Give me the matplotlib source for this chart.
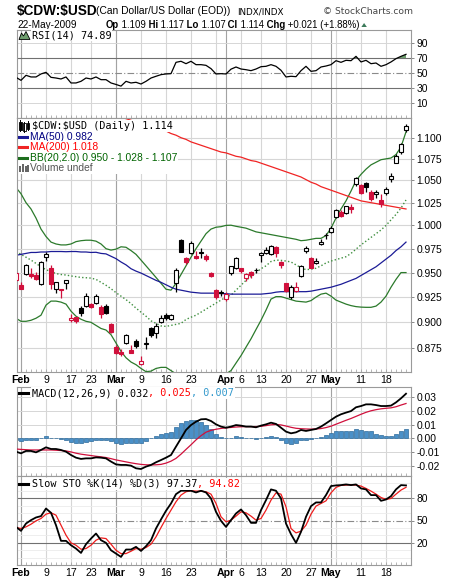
import datetime as dt

import matplotlib
matplotlib.use("Agg")
import matplotlib.pyplot as plt
import numpy as np
from matplotlib import ticker
from matplotlib.lines import Line2D
from matplotlib.patches import Polygon, Rectangle

plt.rcParams["font.family"] = ["Liberation Sans", "DejaVu Sans"]

# ---------------- data ----------------
jan_days = [30]
feb_days = [2, 3, 4, 5, 6, 9, 10, 11, 12, 13, 17, 18, 19, 20, 23, 24, 25, 26, 27]
mar_days = [2, 3, 4, 5, 6, 9, 10, 11, 12, 13, 16, 17, 18, 19, 20, 23, 24, 25, 26, 27, 30, 31]
apr_days = [1, 2, 3, 6, 7, 8, 9, 13, 14, 15, 16, 17, 20, 21, 22, 23, 24, 27, 28, 29, 30]
may_days = [1, 4, 5, 6, 7, 8, 11, 12, 13, 14, 15, 18, 19, 20, 21, 22]

prev_close = 0.956  # close of the day before the first one shown

opens = [0.942, 0.937, 0.949, 0.9486, 0.9475, 0.938, 0.9666, 0.9545, 0.9329, 0.9327,
         0.9388, 0.902, 0.905, 0.9139, 0.9158, 0.9181, 0.9188, 0.9155, 0.9161, 0.8979,
         0.8765, 0.8718, 0.8798, 0.8738, 0.8820, 0.8597, 0.8795, 0.8942, 0.8894, 0.9004,
         0.9072, 0.9036, 0.9390, 0.9843, 0.9649, 0.9701, 0.9676, 0.9707, 0.9676, 0.9499,
         0.9322, 0.9295, 0.9236, 0.9493, 0.9545, 0.9545, 0.9441, 0.9509, 0.9524, 0.9684,
         0.9701, 0.9691, 0.9771, 0.9607, 0.9390, 0.9249, 0.9312, 0.9465, 0.9726, 0.9649,
         0.9597, 0.9797, 0.9894, 0.9932, 1.0092, 1.0150, 1.0136, 1.0205, 1.0457, 1.0449,
         1.0468, 1.0373, 1.0344, 1.0280, 1.0355, 1.0514, 1.0705, 1.0827, 1.109]
highs = [0.951, 0.940, 0.959, 0.9545, 0.951, 0.962, 0.9715, 0.9574, 0.940, 0.933,
         0.9426, 0.908, 0.905, 0.9157, 0.9289, 0.919, 0.9279, 0.9171, 0.9181, 0.8997,
         0.8781, 0.8740, 0.8887, 0.8781, 0.8839, 0.8672, 0.8855, 0.8958, 0.8991, 0.9072,
         0.9089, 0.9085, 0.9543, 0.9853, 0.9666, 0.9829, 0.9723, 0.9754, 0.9694, 0.9509,
         0.9332, 0.9322, 0.9305, 0.9570, 0.9660, 0.9548, 0.9499, 0.9520, 0.9551, 0.9718,
         0.9771, 0.9790, 0.9779, 0.9624, 0.9396, 0.9373, 0.9407, 0.9579, 0.9779, 0.9666,
         0.9649, 0.9850, 0.9921, 0.9994, 1.0175, 1.0169, 1.0215, 1.0235, 1.0543, 1.0460,
         1.0480, 1.0392, 1.0392, 1.0344, 1.0430, 1.0582, 1.0803, 1.0933, 1.117]
lows = [0.941, 0.933, 0.947, 0.944, 0.942, 0.937, 0.9624, 0.9337, 0.9295, 0.9244,
        0.9327, 0.9007, 0.899, 0.9065, 0.9147, 0.9143, 0.9179, 0.904, 0.9079, 0.8894,
        0.8696, 0.8677, 0.8791, 0.8701, 0.8750, 0.8593, 0.8743, 0.8861, 0.8844, 0.8989,
        0.9018, 0.902, 0.9302, 0.9712, 0.9586, 0.9694, 0.9638, 0.9652, 0.9624, 0.9452,
        0.9231, 0.9262, 0.9211, 0.9480, 0.9540, 0.9493, 0.9414, 0.9441, 0.9493, 0.9613,
        0.9694, 0.9685, 0.9659, 0.9545, 0.9305, 0.9231, 0.9305, 0.9452, 0.9708, 0.9545,
        0.9586, 0.9789, 0.9850, 0.9915, 1.0085, 1.0095, 1.0130, 1.0132, 1.0441, 1.0347,
        1.0373, 1.0269, 1.0299, 1.0205, 1.0336, 1.0486, 1.0698, 1.0803, 1.107]
closes = [0.950, 0.933, 0.958, 0.946, 0.9431, 0.961, 0.9691, 0.938, 0.9399, 0.9317,
          0.9424, 0.904, 0.901, 0.9095, 0.9259, 0.9152, 0.9259, 0.9079, 0.9089, 0.8902,
          0.8703, 0.8695, 0.8877, 0.8707, 0.8775, 0.8630, 0.8798, 0.8877, 0.8965, 0.9040,
          0.9043, 0.9072, 0.9527, 0.9715, 0.9613, 0.9811, 0.9649, 0.9712, 0.9642, 0.9467,
          0.9252, 0.9298, 0.9282, 0.9565, 0.9649, 0.9520, 0.9486, 0.9475, 0.9527, 0.9708,
          0.9736, 0.9782, 0.9708, 0.9582, 0.9315, 0.9356, 0.9350, 0.9568, 0.9754, 0.9551,
          0.9624, 0.9824, 0.9897, 0.9969, 1.0169, 1.0103, 1.0210, 1.0185, 1.0532, 1.0355,
          1.0430, 1.0291, 1.0373, 1.0232, 1.0403, 1.0552, 1.0783, 1.093, 1.114]

ma50 = [0.968, 0.969, 0.970, 0.971, 0.971, 0.9715, 0.9715, 0.972, 0.972, 0.972,
        0.9718, 0.972, 0.972, 0.9715, 0.9715, 0.971, 0.9712, 0.970, 0.9695, 0.967,
        0.9645, 0.961, 0.958, 0.954, 0.9515, 0.9495, 0.947, 0.9445, 0.942, 0.940,
        0.9375, 0.935, 0.933, 0.932, 0.931, 0.930, 0.9295, 0.929, 0.929, 0.929,
        0.929, 0.9285, 0.9285, 0.928, 0.928, 0.928, 0.928, 0.928, 0.928, 0.928,
        0.9285, 0.929, 0.930, 0.9305, 0.9305, 0.9305, 0.9305, 0.9305, 0.9305, 0.931,
        0.932, 0.933, 0.934, 0.935, 0.9365, 0.938, 0.940, 0.942, 0.944, 0.947,
        0.950, 0.953, 0.956, 0.960, 0.964, 0.968, 0.973, 0.977, 0.982]
ma200_first = 20  # MA(200) comes down into the window on this day
ma200 = [1.127, 1.125, 1.123, 1.121, 1.119, 1.117, 1.115, 1.114, 1.112, 1.110,
         1.108, 1.105, 1.103, 1.100, 1.098, 1.095, 1.093, 1.091, 1.089, 1.087,
         1.085, 1.083, 1.082, 1.080, 1.078, 1.077, 1.075, 1.073, 1.072, 1.070,
         1.068, 1.066, 1.064, 1.062, 1.060, 1.058, 1.056, 1.054, 1.051, 1.048,
         1.046, 1.043, 1.041, 1.039, 1.037, 1.035, 1.033, 1.031, 1.029, 1.027,
         1.026, 1.025, 1.024, 1.023, 1.022, 1.021, 1.020, 1.019, 1.018]
bb_upper = [1.042, 1.035, 1.025, 1.018, 1.008, 0.996, 0.988, 0.982, 0.980, 0.979,
            0.979, 0.980, 0.9825, 0.9835, 0.984, 0.984, 0.983, 0.980, 0.975, 0.9735,
            0.9745, 0.977, 0.9765, 0.973, 0.969, 0.963, 0.957, 0.951, 0.945, 0.939,
            0.933, 0.932, 0.939, 0.948, 0.957, 0.966, 0.975, 0.983, 0.991, 0.996,
            0.998, 0.9986, 1.000, 1.0002, 0.999, 0.998, 0.997, 0.995, 0.993, 0.992,
            0.991, 0.990, 0.989, 0.988, 0.987, 0.986, 0.985, 0.9835, 0.984, 0.985,
            0.986, 0.986, 0.989, 0.997, 1.008, 1.018, 1.027, 1.038, 1.050, 1.057,
            1.063, 1.068, 1.071, 1.074, 1.075, 1.076, 1.080, 1.089, 1.107]
bb_mid = [0.972, 0.969, 0.966, 0.963, 0.9595, 0.956, 0.953, 0.951, 0.949, 0.948,
          0.9475, 0.9465, 0.9458, 0.945, 0.9447, 0.9443, 0.943, 0.940, 0.937, 0.9335,
          0.9295, 0.926, 0.9225, 0.9185, 0.914, 0.910, 0.906, 0.9015, 0.899, 0.8965,
          0.896, 0.897, 0.898, 0.899, 0.9028, 0.905, 0.907, 0.910, 0.913, 0.916,
          0.919, 0.922, 0.925, 0.927, 0.932, 0.937, 0.942, 0.946, 0.950, 0.954,
          0.957, 0.9615, 0.963, 0.9627, 0.962, 0.961, 0.958, 0.955, 0.953, 0.9535,
          0.9545, 0.957, 0.960, 0.962, 0.9635, 0.965, 0.9665, 0.970, 0.9745, 0.979,
          0.983, 0.987, 0.991, 0.995, 1.000, 1.006, 1.012, 1.019, 1.028]
bb_lower = [0.904, 0.901, 0.901, 0.902, 0.904, 0.907, 0.917, 0.921, 0.921, 0.920,
            0.918, 0.911, 0.906, 0.903, 0.901, 0.900, 0.897, 0.894, 0.8925, 0.888,
            0.880, 0.872, 0.866, 0.862, 0.8595, 0.856, 0.853, 0.8535, 0.856, 0.857,
            0.857, 0.854, 0.851, 0.847, 0.843, 0.840, 0.838, 0.836, 0.835, 0.837,
            0.841, 0.846, 0.851, 0.854, 0.861, 0.868, 0.876, 0.884, 0.893, 0.902,
            0.912, 0.923, 0.9255, 0.9255, 0.924, 0.9225, 0.921, 0.9205, 0.920, 0.9215,
            0.925, 0.928, 0.929, 0.926, 0.922, 0.920, 0.918, 0.9165, 0.9155, 0.915,
            0.9148, 0.9148, 0.916, 0.920, 0.926, 0.935, 0.943, 0.950, 0.950]

rsi = [44.2, 40.2, 46.9, 44.7, 44.7, 48.7, 50.9, 44.2, 43.3, 42.0,
       44.7, 36.7, 36.7, 38.9, 43.3, 42.0, 44.7, 41.1, 41.1, 36.7,
       34.7, 32.5, 38.9, 36.7, 37.6, 35.3, 38.9, 43.3, 45.6, 47.8,
       48.7, 49.1, 64.2, 65.6, 62.4, 65.6, 61.1, 61.1, 60.2, 55.8,
       48.7, 49.1, 48.7, 55.1, 58.0, 55.3, 54.4, 53.1, 55.3, 58.4,
       58.9, 61.1, 58.9, 53.6, 44.7, 45.6, 45.1, 53.1, 58.9, 52.2,
       53.1, 58.0, 59.3, 61.1, 66.4, 64.2, 66.9, 66.4, 72.2, 64.7,
       66.9, 62.4, 63.3, 58.9, 61.1, 64.7, 69.1, 72.2, 74.89]

macd = [-0.0094, -0.0106, -0.0089, -0.0089, -0.0099, -0.0082, -0.0063, -0.0075, -0.0075, -0.0082,
        -0.0094, -0.0118, -0.0137, -0.0146, -0.0142, -0.0142, -0.0135, -0.0137, -0.0142, -0.0165,
        -0.0185, -0.0189, -0.0189, -0.0194, -0.0213, -0.0218, -0.0201, -0.0189, -0.0170, -0.0154,
        -0.0137, -0.0118, -0.0058, 0.0001, 0.0061, 0.0096, 0.0120, 0.0137, 0.0139, 0.0125,
        0.0101, 0.0085, 0.0077, 0.0085, 0.0096, 0.0092, 0.0085, 0.0085, 0.0080, 0.0092,
        0.0101, 0.0113, 0.0104, 0.0077, 0.0049, 0.0037, 0.0044, 0.0061, 0.0054, 0.0061,
        0.0068, 0.0085, 0.0108, 0.0132, 0.0156, 0.0173, 0.0185, 0.0196, 0.0223, 0.0232,
        0.0244, 0.0244, 0.0239, 0.0232, 0.0232, 0.0235, 0.0258, 0.0287, 0.0320]
macd_signal = [-0.0075, -0.0078, -0.0080, -0.0082, -0.0082, -0.0082, -0.0082, -0.0082, -0.0084, -0.0086,
               -0.0089, -0.0096, -0.0105, -0.0112, -0.0117, -0.0122, -0.0127, -0.0131, -0.0136, -0.0144,
               -0.0153, -0.0160, -0.0167, -0.0174, -0.0180, -0.0185, -0.0188, -0.0189, -0.0188, -0.0185,
               -0.0176, -0.0162, -0.0142, -0.0112, -0.0078, -0.0045, -0.0010, 0.0020, 0.0045, 0.0058,
               0.0066, 0.0072, 0.0076, 0.0079, 0.0082, 0.0084, 0.0085, 0.0085, 0.0085, 0.0087,
               0.0092, 0.0098, 0.0100, 0.0097, 0.0089, 0.0080, 0.0073, 0.0070, 0.0068, 0.0067,
               0.0068, 0.0071, 0.0078, 0.0088, 0.0102, 0.0116, 0.0130, 0.0143, 0.0158, 0.0173,
               0.0187, 0.0198, 0.0206, 0.0212, 0.0216, 0.0219, 0.0227, 0.0239, 0.0250]
macd_hist = [-0.0010, -0.0015, -0.0010, -0.0010, -0.0010, 0.0005, 0.0015, 0.0005, 0.0000, -0.0005,
             -0.0010, -0.0025, -0.0030, -0.0030, -0.0025, -0.0020, -0.0010, -0.0010, -0.0010, -0.0020,
             -0.0035, -0.0040, -0.0035, -0.0030, -0.0035, -0.0030, -0.0015, 0.0000, 0.0015, 0.0030,
             0.0040, 0.0045, 0.0080, 0.0110, 0.0125, 0.0130, 0.0130, 0.0120, 0.0095, 0.0070,
             0.0035, 0.0010, 0.0000, 0.0005, 0.0015, 0.0010, 0.0005, 0.0000, -0.0002, 0.0005,
             0.0010, 0.0015, 0.0010, -0.0010, -0.0030, -0.0040, -0.0030, -0.0010, -0.0010, -0.0005,
             0.0000, 0.0010, 0.0025, 0.0040, 0.0050, 0.0055, 0.0055, 0.0055, 0.0065, 0.0060,
             0.0057, 0.0050, 0.0035, 0.0025, 0.0015, 0.0020, 0.0035, 0.0050, 0.0070]

sto_k = [41.4, 36.0, 45.9, 50.5, 54.1, 55.9, 66.2, 60.4, 43.7, 22.5,
         22.5, 16.6, 12.1, 6.2, 18.0, 25.6, 32.4, 23.4, 19.8, 9.8,
         5.3, 0.8, 10.8, 10.8, 14.4, 8.9, 15.3, 23.4, 39.2, 51.4,
         63.1, 73.0, 85.6, 90.2, 90.2, 90.2, 87.9, 90.2, 87.9, 79.8,
         61.7, 49.5, 41.4, 50.5, 59.5, 64.9, 57.2, 46.8, 46.8, 64.0,
         77.5, 92.0, 90.2, 79.8, 45.9, 31.5, 19.8, 34.7, 55.0, 69.4,
         74.4, 74.4, 84.3, 96.5, 97.4, 97.8, 98.7, 97.8, 98.7, 93.3,
         92.0, 84.3, 84.3, 76.6, 78.4, 82.9, 92.0, 97.8, 97.37]
sto_d = [40.5, 39.2, 41.4, 45.0, 49.5, 52.7, 58.6, 60.4, 57.2, 43.7,
         30.2, 19.8, 16.6, 11.2, 12.1, 16.6, 23.4, 26.5, 25.6, 18.0,
         9.8, 5.3, 5.3, 8.5, 12.1, 11.2, 13.5, 18.0, 27.9, 40.5,
         52.7, 64.0, 75.3, 84.3, 88.8, 90.2, 89.7, 89.7, 88.8, 85.6,
         73.0, 55.0, 48.2, 50.5, 55.9, 61.7, 60.4, 55.9, 50.5, 52.7,
         64.0, 77.5, 87.4, 85.6, 68.5, 39.2, 33.3, 35.6, 43.7, 58.6,
         69.4, 73.0, 76.6, 87.4, 94.7, 97.4, 97.8, 98.3, 97.8, 96.5,
         93.3, 89.7, 85.6, 81.1, 78.4, 79.8, 85.6, 91.1, 94.82]

price_ticks = [0.875, 0.900, 0.925, 0.950, 0.975, 1.000, 1.025, 1.050, 1.075, 1.100]
rsi_ticks = [10, 30, 50, 70, 90]
macd_ticks = [-0.02, -0.01, 0.00, 0.01, 0.02, 0.03]
sto_ticks = [20, 50, 80]

# ---------------- colours ----------------
RED = "#d0103c"
NAVY = "#1b1b96"
MA200_RED = "#f02424"
BB_GREEN = "#2b7a2b"
GRID = "#d6d6d6"
MONTH = "#a3a3a3"
EDGE = "#9a9a9a"

# ---------------- figure ----------------
W, H = 460, 582
fig = plt.figure(figsize=(W / 100, H / 100), dpi=100)
fig.patch.set_facecolor("white")
renderer = fig.canvas.get_renderer()


def fx(px):
    return px / W


def fy(py):
    return 1 - py / H


def ftext(xp, yp, s, **kw):
    kw.setdefault("parse_math", False)
    return fig.text(fx(xp), fy(yp), s, **kw)


def text_run(xp, yp, pieces, **kw):
    # pieces: (text, colour, weight)
    for s, col, wt in pieces:
        t = ftext(xp, yp, s, color=col, weight=wt, **kw)
        xp += t.get_window_extent(renderer).width
    return xp


def fline(x0, x1, yp, **kw):
    fig.add_artist(Line2D([fx(x0), fx(x1)], [fy(yp), fy(yp)], transform=fig.transFigure, **kw))


def frect(x0, y0, x1, y1, **kw):
    fig.add_artist(Rectangle((fx(x0), fy(y1)), (x1 - x0) / W, (y1 - y0) / H,
                             transform=fig.transFigure, **kw))


def panel(x0, y0, x1, y1):
    return fig.add_axes([fx(x0), fy(y1), (x1 - x0) / W, (y1 - y0) / H])


dates = ([dt.date(2009, 1, d) for d in jan_days] + [dt.date(2009, 2, d) for d in feb_days]
         + [dt.date(2009, 3, d) for d in mar_days] + [dt.date(2009, 4, d) for d in apr_days]
         + [dt.date(2009, 5, d) for d in may_days])
n = len(dates)
x = np.arange(n)
month_starts = [i for i in range(1, n) if dates[i].month != dates[i - 1].month]
week_starts = [i for i in range(1, n)
               if dates[i].isocalendar()[1] != dates[i - 1].isocalendar()[1]]
tick_pos, tick_lab = [], []
for i in sorted(set(week_starts) | set(month_starts)):
    if i in month_starts:
        tick_pos.append(i)
        tick_lab.append(dates[i].strftime("%b"))
    elif min(abs(i - m) for m in month_starts) > 2:
        tick_pos.append(i)
        tick_lab.append(str(dates[i].day))


def base(ax, ylim):
    ax.set_xlim(0.2, 79)
    ax.set_ylim(*ylim)
    for s in ax.spines.values():
        s.set_color(EDGE)
        s.set_linewidth(0.8)
    for i in week_starts:
        ax.axvline(i, color=GRID, lw=0.8, zorder=0)
    for i in month_starts:
        ax.axvline(i, color=MONTH, lw=0.8, zorder=0)
    ax.yaxis.tick_right()
    ax.tick_params(axis="y", which="major", direction="out", length=2, width=0.6,
                   colors="#777777", labelcolor="black", labelsize=7.4, pad=2)
    ax.set_xticks(tick_pos)
    ax.set_xticklabels([])
    ax.xaxis.set_minor_locator(ticker.FixedLocator(x))
    ax.tick_params(axis="x", which="both", direction="in", length=2, width=0.5,
                   colors="#999999", labelcolor="black")


def label_x(ax):
    ax.set_xticklabels(tick_lab)
    ax.tick_params(axis="x", which="major", labelsize=7.6, pad=2.5)
    for lab in ax.get_xticklabels():
        if not lab.get_text().isdigit():
            lab.set_fontweight("bold")


# ---------------- RSI ----------------
ax_rsi = panel(17, 30, 411, 118)
base(ax_rsi, (-10, 107.3))
rsi_a = np.array(rsi)
for lvl in (10, 90):
    ax_rsi.axhline(lvl, color=GRID, lw=0.7, zorder=0)
ax_rsi.axhline(70, color="#707070", lw=0.8, zorder=1)
ax_rsi.axhline(30, color="#707070", lw=0.8, zorder=1)
ax_rsi.axhline(50, color="#8a8a8a", lw=0.8, ls=(0, (6, 2, 1, 2)), zorder=1)
ax_rsi.fill_between(x, rsi_a, 70, where=rsi_a > 70, interpolate=True,
                    color="#6e9e6e", lw=0, zorder=2)
ax_rsi.plot(x, rsi_a, color="black", lw=0.9, zorder=3)
ax_rsi.set_yticks(rsi_ticks)

# ---------------- price ----------------
ax = panel(17, 118, 411, 372)
ax.set_yscale("log")
base(ax, (0.8527, 1.1238))
ax.yaxis.set_major_locator(ticker.FixedLocator(price_ticks))
ax.yaxis.set_major_formatter(ticker.FormatStrFormatter("%.3f"))
ax.yaxis.set_minor_locator(ticker.NullLocator())
for p in price_ticks:
    ax.axhline(p, color=GRID, lw=0.8, zorder=0)
ax.add_patch(Rectangle((0, 1 - 56 / 254), 161 / 394, 56 / 254, transform=ax.transAxes,
                       fc="white", ec="none", zorder=1.5))

ax.plot(x, bb_upper, color=BB_GREEN, lw=0.9, zorder=2)
ax.plot(x, bb_lower, color=BB_GREEN, lw=0.9, zorder=2)
ax.plot(x, bb_mid, color="#3f8f3f", lw=1.0, ls=(0, (1, 1.6)), zorder=2)
ax.plot(x, ma50, color=NAVY, lw=0.9, zorder=2)
ax.plot(x[ma200_first:], ma200, color=MA200_RED, lw=0.9, zorder=2)

o, h, l, c = map(np.array, (opens, highs, lows, closes))
prev = np.r_[prev_close, c[:-1]]
edge = np.where(c >= prev, "black", RED)
face = np.where(c > o, "white", edge)
ax.vlines(x, l, h, colors=edge, lw=0.9, zorder=3)
ax.bar(x, np.abs(c - o), bottom=np.minimum(o, c), width=0.8, color=face,
       edgecolor=edge, linewidth=0.8, zorder=4)
label_x(ax)

# ---------------- MACD ----------------
ax_m = panel(17, 387, 411, 476)
base(ax_m, (-0.0268, 0.0368))
for v in macd_ticks:
    ax_m.axhline(v, color=GRID, lw=0.7, zorder=0)
ax_m.bar(x, macd_hist, width=0.9, color="#4a90c8", edgecolor="#2d6b9b", lw=0.5, zorder=2)
ax_m.plot(x, macd_signal, color=RED, lw=0.9, zorder=3)
ax_m.plot(x, macd, color="black", lw=1.3, zorder=4)
ax_m.set_yticks(macd_ticks)
ax_m.yaxis.set_major_formatter(ticker.FormatStrFormatter("%.2f"))

# ---------------- Slow stochastic ----------------
ax_s = panel(17, 476, 411, 565)
base(ax_s, (-10.1, 110.1))
for v in (0, 10, 30, 40, 60, 70, 90, 100):
    ax_s.axhline(v, color="#ebebeb", lw=0.6, zorder=0)
ax_s.axhline(80, color="#707070", lw=0.8, zorder=1)
ax_s.axhline(20, color="#707070", lw=0.8, zorder=1)
ax_s.axhline(50, color="#8a8a8a", lw=0.8, ls=(0, (6, 2, 1, 2)), zorder=1)
ax_s.plot(x, sto_d, color="#ee1c1c", lw=0.9, zorder=3)
ax_s.plot(x, sto_k, color="black", lw=1.3, zorder=4)
ax_s.set_yticks(sto_ticks)
label_x(ax_s)

# ---------------- header ----------------
ftext(17, 15, "$CDW:$USD", fontsize=9.8, weight="bold", va="baseline")
ftext(96, 14.5, "(Can Dollar/US Dollar (EOD))", fontsize=7.4, va="baseline")
ftext(237, 14.5, "INDX/INDX", fontsize=6.3, family="DejaVu Sans", va="baseline")
ftext(413, 14.5, "\u00a9 StockCharts.com", fontsize=6.6, family="DejaVu Sans",
      color="#444444", ha="right", va="baseline")
ftext(17, 27.5, "22-May-2009", fontsize=7.2, va="baseline")
quote = []
for lab, val in (("Op", "1.109"), ("Hi", "1.117"), ("Lo", "1.107"), ("Cl", "1.114"),
                 ("Chg", "+0.021 (+1.88%)")):
    quote.append(((" " if quote else "") + lab, "black", "bold"))
    quote.append((" " + val, "black", "normal"))
x_end = text_run(106, 27.5, quote, fontsize=6.9, va="baseline")
fig.add_artist(Polygon([(fx(x_end + 2), fy(27)), (fx(x_end + 7.5), fy(27)),
                        (fx(x_end + 4.7), fy(23))],
                       closed=True, transform=fig.transFigure, fc="#3c7a5a", ec="none"))

# ---------------- legends ----------------
BOX = dict(fc="white", ec="none", pad=0.6)
MONO = dict(family="DejaVu Sans Mono", fontsize=7.3, va="center", bbox=BOX)
PROP = dict(family="Liberation Sans", fontsize=7.4, va="center", bbox=BOX)

# RSI
fig.add_artist(Polygon([(fx(19), fy(39.5)), (fx(21.5), fy(33)), (fx(23.5), fy(36)),
                        (fx(26), fy(31.5)), (fx(30), fy(39.5))], closed=True,
                       transform=fig.transFigure, fc="#6e9e6e", ec="black", lw=0.6))
ftext(32, 35.3, "RSI(14) 74.89", color="black", **MONO)

# price panel
for xc, yt, yb, fill in ((20.5, 121.5, 129.5, "black"), (24.5, 123, 130.5, "white"),
                         (28.0, 122.5, 128.5, "black")):
    fig.add_artist(Line2D([fx(xc), fx(xc)], [fy(yt - 1.5), fy(yb + 1.5)],
                          transform=fig.transFigure, color="black", lw=0.7))
    frect(xc - 1.1, yt, xc + 1.1, yb, fc=fill, ec="black", lw=0.6)
ftext(32, 125.7, "$CDW:$USD (Daily) 1.114", color="black", **MONO)
fline(19, 28, 136.7, color=NAVY, lw=2.2)
ftext(29.5, 136.7, "MA(50) 0.982", color="#000080", **PROP)
fline(19, 28, 147.3, color=MA200_RED, lw=2.2)
ftext(29.5, 147.3, "MA(200) 1.018", color="#ff0000", **PROP)
fline(19, 28, 158.3, color="#1e6e1e", lw=2.2)
ftext(29.5, 158.3, "BB(20,2.0) 0.950 - 1.028 - 1.107", color="#006400", **PROP)
for x0, top in ((19.5, 165.5), (22.3, 163.5), (25.1, 166), (27.0, 164.5)):
    frect(x0, top, x0 + 1.8, 172, fc="#666666", ec="none")
ftext(29.5, 168.3, "Volume undef", color="#555555", **PROP)

# MACD
fline(19, 28, 393.3, color="black", lw=2.2)
text_run(32, 393.3, [("MACD(12,26,9) 0.032", "black", "normal"),
                     (", 0.025", "#ff0000", "normal"),
                     (", 0.007", "#3399cc", "normal")], **MONO)

# Slow STO
fline(19, 28, 484, color="black", lw=2.2)
text_run(32, 484, [("Slow STO %K(14) %D(3) 97.37", "black", "normal"),
                   (", 94.82", "#ff0000", "normal")], **MONO)

fig.savefig("out.png", dpi=100, facecolor="white")
